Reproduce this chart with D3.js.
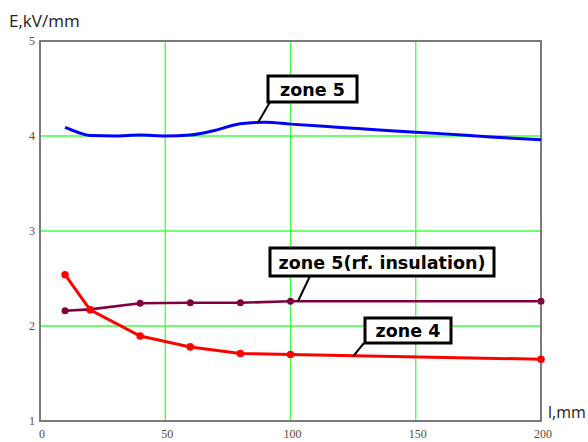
<!DOCTYPE html>
<html><head><meta charset="utf-8">
<script src="https://cdn.jsdelivr.net/npm/d3@7"></script>
<style>html,body{margin:0;padding:0;background:#fff;}svg{display:block;}</style>
</head><body>
<svg id="c" width="588" height="442"></svg>
<script>
// Data
const xTicks = [0, 50, 100, 150, 200];
const yTicks = [1, 2, 3, 4, 5];
const zone5X = [10, 15, 20, 30, 40, 50, 60, 70, 80, 90, 100, 120, 140, 160, 180, 200];
const zone5Y = [4.09, 4.04, 4.005, 4.0, 4.01, 4.0, 4.01, 4.06, 4.13, 4.145, 4.125, 4.09, 4.055, 4.025, 3.99, 3.96];
const zone5rfX = [10, 20, 40, 60, 80, 100, 200];
const zone5rfY = [2.16, 2.175, 2.24, 2.245, 2.245, 2.26, 2.26];
const zone4X = [10, 20, 40, 60, 80, 100, 200];
const zone4Y = [2.54, 2.17, 1.895, 1.78, 1.71, 1.70, 1.65];
const labels = ["zone 5", "zone 5(rf. insulation)", "zone 4"];

const svg = d3.select("#c");
const x = d3.scaleLinear().domain([0, 200]).range([40, 541]);
const y = d3.scaleLinear().domain([1, 5]).range([421, 41]);

// grid
svg.append("g").selectAll("line.v").data([50, 100, 150]).join("line")
  .attr("x1", d => x(d)).attr("x2", d => x(d)).attr("y1", y(5)).attr("y2", y(1))
  .attr("stroke", "#3dff3d").attr("stroke-width", 1.3);
svg.append("g").selectAll("line.h").data([2, 3, 4]).join("line")
  .attr("x1", x(0)).attr("x2", x(200)).attr("y1", d => y(d)).attr("y2", d => y(d))
  .attr("stroke", "#3dff3d").attr("stroke-width", 1.3);

// frame
svg.append("rect").attr("x", x(0)).attr("y", y(5)).attr("width", x(200) - x(0)).attr("height", y(1) - y(5))
  .attr("fill", "none").attr("stroke", "#7a7a7a").attr("stroke-width", 2);

// tick labels
const tickFont = "'Liberation Serif', 'DejaVu Serif', serif";
svg.append("g").selectAll("text").data(xTicks).join("text")
  .attr("x", d => x(d) + 2).attr("y", 438).attr("text-anchor", "middle")
  .attr("font-family", tickFont).attr("font-size", 12).attr("fill", "#5a4a3a")
  .text(d => d);
svg.append("g").selectAll("text").data(yTicks).join("text")
  .attr("x", 35).attr("y", d => y(d) + 4).attr("text-anchor", "end")
  .attr("font-family", tickFont).attr("font-size", 12).attr("fill", "#5a4a3a")
  .text(d => d);

// axis titles
svg.append("text").attr("x", 9).attr("y", 27).attr("font-family", "'Open Sans', sans-serif")
  .attr("font-size", 17).attr("fill", "#222").text("E,kV/mm");
svg.append("text").attr("x", 548).attr("y", 418).attr("font-family", "'Open Sans', sans-serif")
  .attr("font-size", 16).attr("fill", "#222").text("l,mm");

// series
const line = d3.line().x(d => x(d[0])).y(d => y(d[1]));
const s5 = zone5X.map((v, i) => [v, zone5Y[i]]);
const s5rf = zone5rfX.map((v, i) => [v, zone5rfY[i]]);
const s4 = zone4X.map((v, i) => [v, zone4Y[i]]);

svg.append("path").datum(s5).attr("d", line.curve(d3.curveMonotoneX))
  .attr("fill", "none").attr("stroke", "#0000ff").attr("stroke-width", 3);
const lin = d3.line().x(d => x(d[0])).y(d => y(d[1]));
svg.append("path").datum(s5rf).attr("d", lin)
  .attr("fill", "none").attr("stroke", "#800040").attr("stroke-width", 2.6);
svg.append("g").selectAll("circle").data(s5rf).join("circle")
  .attr("cx", d => x(d[0])).attr("cy", d => y(d[1])).attr("r", 3.5).attr("fill", "#800040");
svg.append("path").datum(s4).attr("d", lin)
  .attr("fill", "none").attr("stroke", "#ff0000").attr("stroke-width", 3);
svg.append("g").selectAll("circle").data(s4).join("circle")
  .attr("cx", d => x(d[0])).attr("cy", d => y(d[1])).attr("r", 3.8).attr("fill", "#ff0000");

// annotations
function annot(text, bx, by, bw, bh, px, py, lx) {
  svg.append("line").attr("x1", lx).attr("y1", by + bh).attr("x2", x(px)).attr("y2", y(py))
    .attr("stroke", "#000").attr("stroke-width", 2);
  svg.append("rect").attr("x", bx).attr("y", by).attr("width", bw).attr("height", bh)
    .attr("fill", "#fff").attr("stroke", "#000").attr("stroke-width", 3);
  svg.append("text").attr("x", bx + bw / 2).attr("y", by + bh / 2 + 6.5).attr("text-anchor", "middle")
    .attr("font-family", "'DejaVu Sans', sans-serif").attr("font-weight", "bold").attr("font-size", 17.5)
    .attr("fill", "#000").text(text);
}
annot(labels[0], 268, 76, 89, 26, 87, 4.14, 270);
annot(labels[1], 270, 248, 224, 28, 103, 2.26, 310);
annot(labels[2], 365, 318, 86, 25, 125, 1.68, 364);
</script>
</body></html>
